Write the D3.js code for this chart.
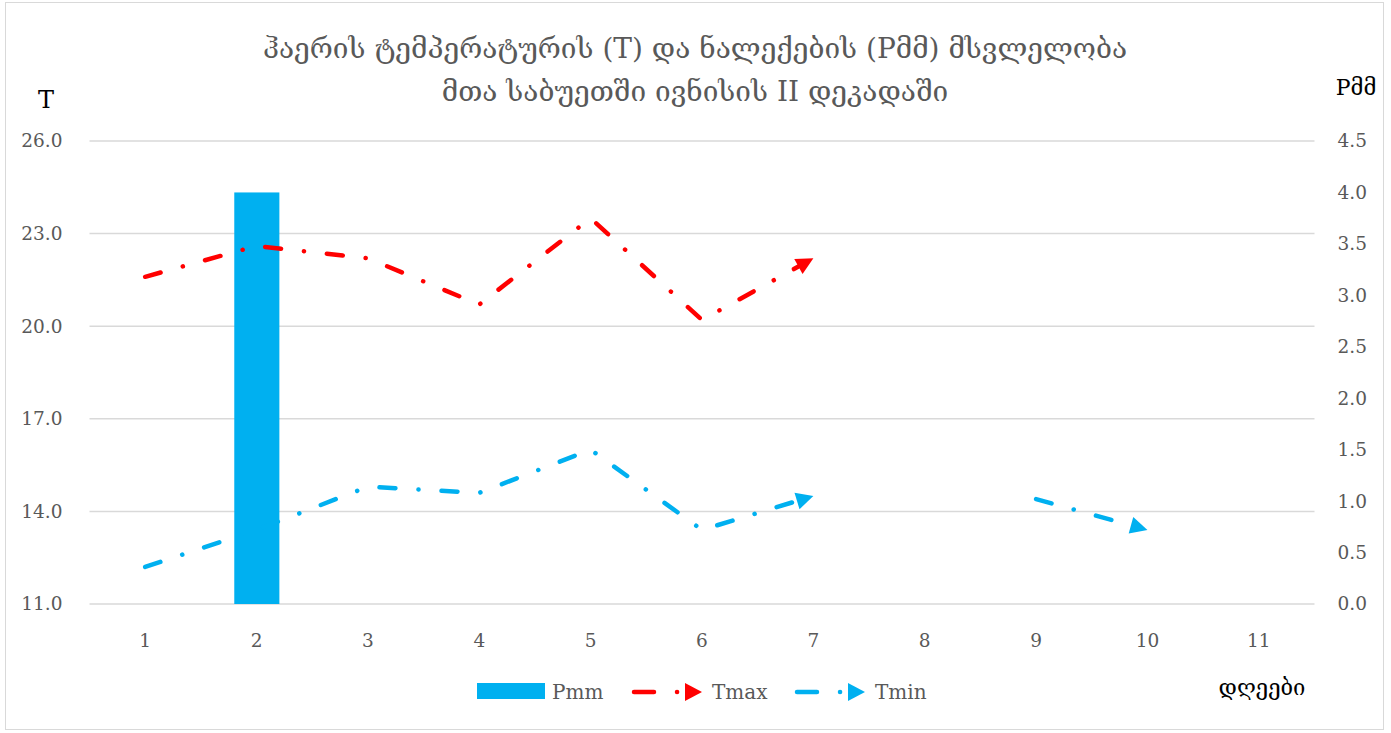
<!DOCTYPE html>
<html>
<head>
<meta charset="utf-8">
<script src="https://cdn.jsdelivr.net/npm/d3@7"></script>
<style>
  body { margin: 0; background: #fff; }
  svg { display: block; }
</style>
</head>
<body>
<svg id="chart" width="1391" height="733"></svg>
<script>
// days of the decade
var days = [1, 2, 3, 4, 5, 6, 7, 8, 9, 10, 11];
// precipitation, mm
var pmm = [null, 4.0, null, null, null, null, null, null, null, null, null];
// max / min air temperature
var tmax = [21.6, 22.6, 22.2, 20.7, 23.5, 20.2, 22.2, null, null, null, null];
var tmin = [12.2, 13.4, 14.8, 14.6, 16.0, 13.4, 14.5, null, 14.4, 13.4, null];
var tTicks = [11, 14, 17, 20, 23, 26];
var pTicks = [0, 0.5, 1, 1.5, 2, 2.5, 3, 3.5, 4, 4.5];

var svg = d3.select("#chart");
var blue = "#00B0F0", red = "#FF0000", grey = "#595959";
var serif = "'DejaVu Serif', 'Liberation Serif', serif";

var pl = 89.5, pr = 1314.5, pt = 141, pb = 604;

svg.append("rect")
  .attr("x", 5.5).attr("y", 2.5).attr("width", 1378).attr("height", 727)
  .attr("fill", "#fff").attr("stroke", "#d9d9d9").attr("stroke-width", 1);

var x = d3.scaleBand().domain(days).range([pl, pr]);
var yT = d3.scaleLinear().domain([11, 26]).range([pb, pt]);
var yP = d3.scaleLinear().domain([0, 4.5]).range([pb, pt]);

// gridlines (left axis)
svg.append("g").selectAll("line").data(tTicks).enter().append("line")
  .attr("x1", pl).attr("x2", pr)
  .attr("y1", function(d) { return yT(d); })
  .attr("y2", function(d) { return yT(d); })
  .attr("stroke", "#d9d9d9").attr("stroke-width", 1.5);

// axes
var gl = svg.append("g").attr("transform", "translate(" + (pl - 24) + ",0)")
  .call(d3.axisLeft(yT).tickValues(tTicks).tickFormat(d3.format(".1f")).tickSize(0));
var gr = svg.append("g").attr("transform", "translate(" + (pr + 20) + ",0)")
  .call(d3.axisRight(yP).tickValues(pTicks).tickFormat(d3.format(".1f")).tickSize(0));
var gb = svg.append("g").attr("transform", "translate(0," + (pb + 22) + ")")
  .call(d3.axisBottom(x).tickSize(0));
[gl, gr, gb].forEach(function(g) {
  g.select(".domain").remove();
  g.selectAll("text").attr("fill", grey).attr("font-size", 18.5).attr("font-family", serif);
});
gb.selectAll("text").attr("dy", "0.95em");

// bars
var bw = x.bandwidth();
svg.append("g").selectAll("rect").data(days.filter(function(d, i) { return pmm[i] != null; }))
  .enter().append("rect")
  .attr("x", function(d) { return x(d) + bw * 0.3; })
  .attr("width", bw * 0.405)
  .attr("y", function(d) { return yP(pmm[days.indexOf(d)]); })
  .attr("height", function(d) { return pb - yP(pmm[days.indexOf(d)]); })
  .attr("fill", blue);

// arrow markers
var defs = svg.append("defs");
function marker(id, color) {
  defs.append("marker")
    .attr("id", id).attr("markerUnits", "userSpaceOnUse")
    .attr("viewBox", "0 0 20 20").attr("refX", 19).attr("refY", 10)
    .attr("markerWidth", 19).attr("markerHeight", 19).attr("orient", "auto")
    .append("path").attr("d", "M1,1 L19,10 L1,19 Z").attr("fill", color);
}
marker("arrRed", red);
marker("arrBlue", blue);

var dash = "16,23,0.1,23";
var line = d3.line()
  .x(function(d) { return x(d[0]) + bw / 2; })
  .y(function(d) { return yT(d[1]); });

function segments(vals) {
  var segs = [], cur = [];
  vals.forEach(function(v, i) {
    if (v == null) { if (cur.length) segs.push(cur); cur = []; }
    else cur.push([days[i], v]);
  });
  if (cur.length) segs.push(cur);
  return segs.filter(function(s) { return s.length > 1; });
}

function drawSeries(vals, color, mid) {
  svg.append("g").selectAll("path").data(segments(vals)).enter().append("path")
    .attr("d", line)
    .attr("fill", "none").attr("stroke", color).attr("stroke-width", 4.5)
    .attr("stroke-linecap", "round").attr("stroke-linejoin", "round")
    .attr("stroke-dasharray", dash)
    .attr("marker-end", "url(#" + mid + ")");
}
drawSeries(tmax, red, "arrRed");
drawSeries(tmin, blue, "arrBlue");

// title
var title = svg.append("text").attr("text-anchor", "middle")
  .attr("font-family", serif).attr("font-size", 28).attr("fill", grey);
title.append("tspan").attr("x", 695).attr("y", 58)
  .text("ჰაერის ტემპერატურის (T) და ნალექების (Pმმ)  მსვლელობა");
title.append("tspan").attr("x", 695).attr("y", 101)
  .text("მთა საბუეთში ივნისის II დეკადაში");

// axis titles
svg.append("text").attr("x", 46).attr("y", 108).attr("text-anchor", "middle")
  .attr("font-family", serif).attr("font-size", 24).text("T");
svg.append("text").attr("x", 1356).attr("y", 95).attr("text-anchor", "middle")
  .attr("font-family", serif).attr("font-size", 22).text("Pმმ");
svg.append("text").attr("x", 1262).attr("y", 695).attr("text-anchor", "middle")
  .attr("font-family", serif).attr("font-size", 22).text("დღეები");

// legend
var lg = svg.append("g").attr("font-family", serif).attr("font-size", 20).attr("fill", grey);
lg.append("rect").attr("x", 477).attr("y", 683).attr("width", 68).attr("height", 16).attr("fill", blue);
lg.append("text").attr("x", 552).attr("y", 699).text("Pmm");
function legendLine(x0, color, label) {
  lg.append("path").attr("d", "M" + x0 + ",692 L" + (x0 + 50) + ",692")
    .attr("stroke", color).attr("stroke-width", 4.5).attr("stroke-linecap", "round")
    .attr("stroke-dasharray", "20,23,0.1,200").attr("fill", "none");
  lg.append("path").attr("d", "M" + (x0 + 51) + ",683 L" + (x0 + 68) + ",692 L" + (x0 + 51) + ",701 Z")
    .attr("fill", color);
  lg.append("text").attr("x", x0 + 78).attr("y", 699).text(label);
}
legendLine(634, red, "Tmax");
legendLine(797, blue, "Tmin");
</script>
</body>
</html>
